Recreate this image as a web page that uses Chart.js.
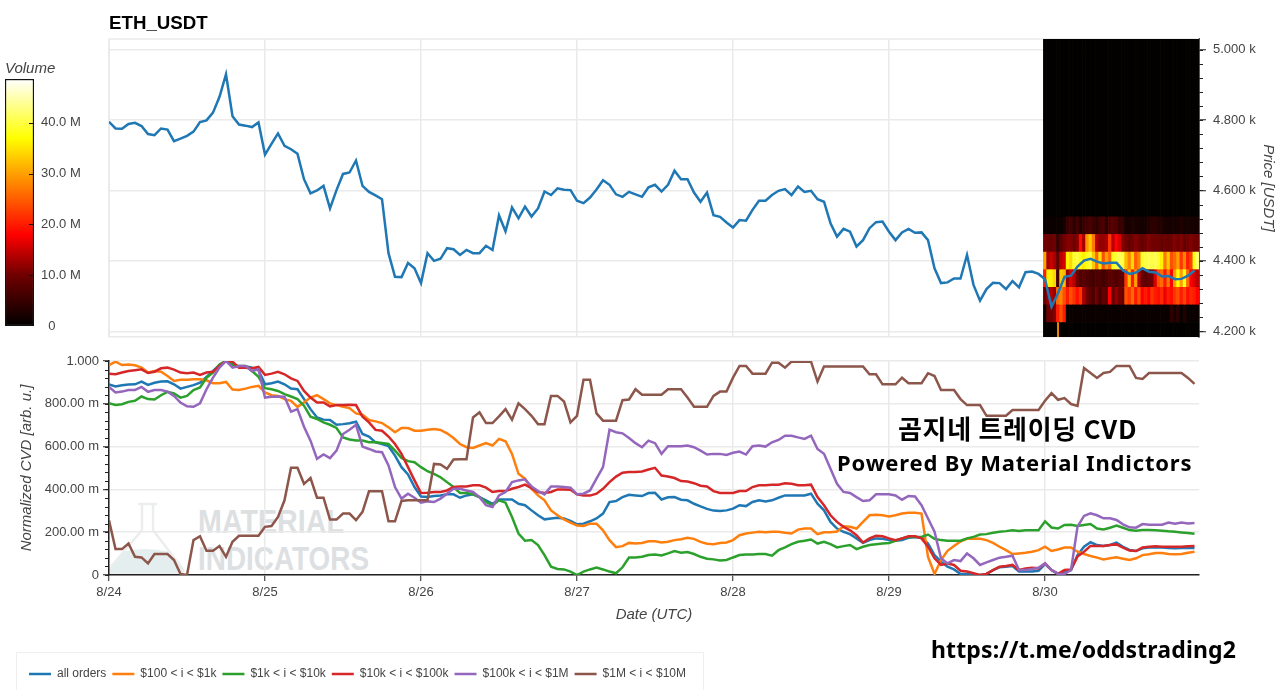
<!DOCTYPE html>
<html>
<head>
<meta charset="utf-8">
<script src="https://cdn.jsdelivr.net/npm/chart.js@4"></script>
<style>
html,body{margin:0;padding:0;background:#fff;width:1280px;height:690px;overflow:hidden}
canvas{position:absolute}
.t{position:absolute;white-space:nowrap;color:#000}
#legendBox{position:absolute;left:16px;top:652px;width:688px;height:46px;border:1px solid #eee;background:#fff;box-sizing:border-box}
</style>
</head>
<body>
<div id="legendBox"></div>
<svg id="wm" width="400" height="100" style="position:absolute;left:100px;top:490px" viewBox="100 490 400 100">
  <path d="M122 552 L110 568 Q107 574 115 574 H178 Q186 574 182 568 L170 552 Q146 546 122 552Z" fill="#e4eeee"/>
  <path d="M138 504 H157 M142 504 V530 L110 568 Q107 574 115 574 H178 Q186 574 182 568 L153 530 V504" fill="none" stroke="#eceeee" stroke-width="2.5"/>
  <text x="198" y="533" font-family="Liberation Sans" font-weight="bold" font-size="33" fill="#dde0e2" textLength="146" lengthAdjust="spacingAndGlyphs">MATERIAL</text>
  <text x="198" y="570" font-family="Liberation Sans" font-weight="bold" font-size="33" fill="#dde0e2" textLength="171" lengthAdjust="spacingAndGlyphs">INDICATORS</text>
</svg>
<canvas id="priceChart" width="1280" height="345" style="left:0;top:0"></canvas>
<canvas id="cvdChart" width="1280" height="345" style="left:0;top:345px"></canvas>
<canvas id="barChart" width="105" height="290" style="left:0;top:50px"></canvas>
<div class="t" style="left:109px;top:12px;font:bold 18.7px 'Liberation Sans'">ETH_USDT</div>
<div class="t" style="left:898px;top:409px;font:bold 26px 'Noto Sans CJK KR';letter-spacing:.7px">곰지네 트레이딩 CVD</div>
<div class="t" style="left:837px;top:447px;font:bold 22px 'Noto Sans';letter-spacing:.83px">Powered By Material Indictors</div>
<div class="t" style="left:931px;top:633px;font:bold 23px 'Noto Sans';letter-spacing:.15px">https://t.me/oddstrading2</div>
<script>
const dayLabels = ['8/24','8/25','8/26','8/27','8/28','8/29','8/30'];
const dayHours = [0,24,48,72,96,120,144];
const seriesNames = ['all orders','$100 < i < $1k','$1k < i < $10k','$10k < i < $100k','$100k < i < $1M','$1M < i < $10M'];
const seriesColors = ['#1f77b4','#ff7f0e','#2ca02c','#d62728','#9467bd','#8c564b'];

const price = [
4795,4776,4775,4789,4792,4783,4760,4757,4776,4773,4740,4747,4755,4767,4794,4799,4821,4866,4930,4811,4787,4784,4780,4793,
4702,4732,4762,4727,4717,4704,4632,4592,4600,4613,4549,4601,4647,4651,4685,4613,4596,4586,4575,4422,4355,4354,4394,4379,
4337,4422,4400,4406,4436,4433,4417,4431,4422,4422,4443,4431,4529,4484,4552,4521,4554,4526,4549,4597,4587,4606,4602,4601,
4571,4564,4580,4603,4629,4616,4589,4582,4596,4589,4582,4609,4616,4597,4616,4656,4632,4632,4594,4568,4594,4530,4525,4509,
4495,4516,4514,4545,4571,4571,4587,4599,4604,4587,4611,4596,4599,4575,4568,4507,4469,4491,4483,4441,4459,4493,4510,4512,
4483,4459,4481,4491,4480,4481,4459,4379,4337,4339,4350,4350,4417,4332,4287,4320,4338,4337,4320,4343,4325,4368,4370,4363,
4348,4270,4308,4355,4358,4384,4401,4406,4398,4393,4395,4395,4373,4363,4367,4379,4369,4367,4356,4357,4348,4349,4358,4373];

const cvdAll = [
.891,.881,.887,.890,.891,.904,.888,.898,.904,.905,.891,.871,.879,.887,.899,.926,.953,.981,1,.984,.972,.975,.969,.957,
.891,.896,.904,.891,.871,.868,.822,.775,.736,.726,.724,.702,.705,.709,.716,.659,.647,.620,.612,.602,.558,.504,.470,.411,
.367,.364,.369,.372,.377,.377,.361,.372,.377,.364,.349,.333,.353,.353,.353,.333,.326,.302,.279,.260,.264,.267,.264,.253,
.237,.240,.251,.264,.287,.341,.346,.364,.375,.372,.369,.383,.384,.353,.363,.364,.352,.349,.333,.321,.309,.301,.299,.302,
.310,.326,.322,.341,.349,.344,.349,.361,.372,.372,.372,.372,.380,.333,.302,.248,.217,.202,.191,.171,.150,.163,.171,.169,
.163,.160,.163,.174,.178,.175,.147,.093,.062,.039,.026,.005,.005,0,0,.005,.023,.036,.039,.042,.016,.016,.016,.020,
.051,.023,.005,.016,.023,.093,.132,.153,.140,.136,.140,.151,.132,.117,.112,.125,.128,.128,.128,.126,.125,.126,.126,.126];

const cvd100 = [
.980,.997,.981,.984,.980,.969,.946,.953,.950,.930,.907,.912,.912,.915,.915,.910,.896,.896,.902,.867,.865,.871,.879,.884,
.853,.840,.837,.822,.814,.786,.806,.829,.840,.822,.802,.794,.786,.780,.755,.749,.724,.718,.710,.690,.667,.687,.687,.674,
.674,.679,.682,.678,.662,.640,.612,.597,.594,.605,.616,.605,.636,.625,.566,.473,.450,.403,.372,.349,.302,.279,.260,.245,
.231,.229,.240,.240,.209,.163,.130,.135,.150,.147,.150,.158,.158,.152,.155,.163,.167,.174,.169,.155,.146,.144,.150,.152,
.163,.186,.194,.198,.202,.200,.202,.202,.197,.194,.212,.217,.217,.191,.200,.200,.203,.228,.225,.217,.248,.279,.282,.279,
.274,.279,.287,.291,.291,.287,.085,.005,.070,.113,.135,.157,.169,.171,.169,.163,.150,.132,.116,.098,.101,.104,.109,.116,
.132,.112,.119,.128,.129,.109,.098,.089,.081,.073,.078,.083,.076,.070,.078,.093,.097,.103,.103,.098,.097,.098,.104,.109];

const cvd1k = [
.803,.795,.798,.809,.814,.834,.822,.820,.840,.856,.848,.829,.837,.864,.876,.922,.946,.984,1,.981,.977,.977,.953,.926,
.873,.868,.860,.845,.834,.822,.791,.740,.729,.713,.702,.687,.643,.633,.628,.628,.620,.620,.617,.612,.581,.547,.532,.527,
.504,.485,.473,.457,.434,.411,.383,.383,.377,.364,.341,.326,.349,.338,.271,.194,.160,.163,.140,.093,.039,.028,.026,.016,
0,.016,.026,.035,.026,.016,.008,.036,.082,.082,.085,.093,.096,.091,.101,.112,.104,.107,.098,.085,.076,.073,.068,.070,
.082,.093,.096,.096,.098,.098,.090,.116,.129,.144,.155,.160,.166,.147,.155,.144,.129,.135,.140,.121,.132,.140,.144,.147,
.150,.160,.171,.178,.178,.178,.189,.169,.163,.160,.160,.160,.171,.178,.189,.191,.197,.202,.205,.209,.206,.209,.209,.209,
.251,.222,.217,.234,.235,.229,.234,.238,.217,.213,.221,.231,.221,.210,.207,.210,.210,.209,.207,.204,.202,.199,.196,.193];

const cvd10k = [
.941,.938,.946,.953,.957,.961,.944,.950,.966,.969,.960,.946,.943,.946,.935,.946,.950,.977,1,.997,.969,.969,.966,.972,
.935,.941,.949,.938,.919,.907,.860,.829,.806,.806,.788,.794,.794,.795,.794,.740,.713,.678,.674,.647,.612,.566,.504,.442,
.383,.384,.388,.388,.395,.411,.414,.414,.419,.419,.408,.388,.392,.392,.403,.411,.422,.406,.388,.383,.388,.400,.400,.398,
.377,.371,.371,.380,.403,.434,.460,.478,.481,.481,.484,.493,.501,.465,.460,.453,.439,.437,.429,.417,.414,.392,.383,.383,
.383,.392,.392,.411,.419,.419,.422,.422,.429,.426,.419,.419,.422,.364,.326,.279,.248,.225,.209,.186,.152,.171,.183,.181,
.171,.163,.171,.181,.181,.171,.132,.078,.047,.054,.047,.020,.016,.008,0,.005,.023,.039,.042,.047,.023,.031,.034,.031,
.054,.023,.005,.023,.026,.086,.109,.136,.136,.136,.140,.143,.128,.114,.112,.129,.132,.134,.132,.132,.132,.132,.134,.136];

const cvd100k = [
.879,.853,.857,.864,.865,.879,.856,.864,.864,.857,.837,.806,.788,.786,.802,.868,.922,.969,1,.969,.977,.977,.953,.961,
.829,.833,.834,.833,.763,.775,.693,.628,.543,.563,.546,.581,.659,.679,.702,.600,.589,.577,.574,.512,.411,.357,.380,.361,
.338,.344,.341,.357,.380,.403,.403,.395,.388,.364,.326,.318,.372,.388,.434,.442,.447,.414,.392,.377,.414,.414,.411,.408,
.377,.380,.395,.450,.504,.679,.667,.662,.640,.616,.597,.628,.616,.566,.602,.602,.602,.605,.597,.581,.563,.566,.566,.561,
.571,.577,.563,.602,.605,.600,.620,.631,.651,.651,.643,.636,.651,.589,.566,.496,.426,.388,.383,.364,.346,.349,.377,.377,
.377,.372,.352,.369,.367,.326,.264,.202,.078,.054,.070,.065,.101,.078,.047,.059,.070,.081,.085,.090,.023,.023,.028,.034,
.054,.023,.005,.005,.023,.226,.276,.288,.279,.265,.265,.257,.237,.223,.221,.238,.235,.235,.235,.245,.240,.245,.241,.243];

const cvd1m = [
.256,.121,.121,.147,.085,.082,.054,.098,.098,.098,.070,.005,0,.163,.181,.113,.113,.135,.085,.155,.183,.183,.183,.183,
.225,.229,.271,.349,.501,.501,.426,.453,.361,.361,.259,.259,.287,.287,.256,.295,.391,.391,.391,.251,.251,.346,.349,.349,
.349,.349,.519,.516,.496,.540,.541,.541,.736,.760,.710,.710,.741,.775,.726,.802,.775,.744,.705,.705,.837,.837,.811,.713,
.744,.912,.912,.755,.721,.721,.721,.817,.820,.868,.842,.842,.842,.842,.868,.868,.868,.829,.786,.786,.786,.837,.857,.857,
.922,.977,.977,.941,.941,.941,.992,.992,.969,.997,.997,.997,.997,.904,.974,.974,.974,.974,.974,.974,.974,.938,.938,.891,
.891,.891,.922,.896,.896,.896,.943,.930,.864,.864,.864,.822,.794,.794,.794,.744,.744,.744,.744,.771,.771,.771,.771,.771,
.814,.850,.819,.827,.799,.790,.967,.944,.921,.944,.949,.977,.977,.977,.921,.916,.944,.944,.944,.944,.944,.944,.921,.893];

const heatHours = [144,144.5,145,145.5,146,146.5,147,147.5,148,148.5,149,149.5,150,150.5,151,151.5,152,152.5,153,153.5,154,154.5,155,155.5,156,156.5,157,157.5,158,158.5,159,159.5,160,160.5,161,161.5,162,162.5,163,163.5,164,164.5,165,165.5,166,166.5,167,167.5];
const heatEdges = [4184,4225,4275,4325,4375,4425,4475,4525,5030];
const heatBand0 = [.3,.3,.3,.3,.3,.3,.3,.3,.3,.3,.3,.3,.3,.3,.3,.3,.3,.3,.3,.3,.3,.3,.3,.3,.3,.3,.3,.3,.3,.3,.3,.3,.3,.3,.3,.3,.3,.3,.3,.3,.3,.3,.3,.3,.3,.3,.3,.3];
const heatBand1 = [1,10,10,11,20,24,20,1,1,1,1,1,1,1,1,1,1,1,1,1,1,1,1,1,1,1,1,1,1,1,1,1,1,1,1,1,1,1,1,4,2,4,1,3,1,1,1,1];
const heatBand2 = [9,12,14,12,26,28,24,20,24,22,19,22,13,10,8,7,10,6,9,8,18,9,12,10,9,24,22,26,20,24,18,20,18,22,20,19,21,17,20,19,22,24,20,23,19,21,20,18];
const heatBand3 = [20,36,36,34,6,33,32,12,16,14,10,7,8,7,7,6,7,7,6,7,8,8,7,8,8,22,32,20,30,14,9,8,9,10,16,24,26,20,27,18,30,37,30,38,26,18,16,14];
const heatBand4 = [30,13,15,13,9,14,16,36,34,39,40,38,36,38,40,33,26,35,24,30,26,38,40,41,40,32,28,34,25,28,39,40,41,40,41,39,36,27,33,24,26,30,22,28,20,23,38,42];
const heatBand5 = [10,10,9,10,5,8,10,11,11,10,11,19,13,29,33,27,14,12,12,13,22,14,18,16,11,10,9,10,11,10,9,10,11,10,10,10,9,10,9,10,11,10,11,9,10,11,10,10];
const heatBand6 = [1,1,1,1,1,1,2,5,6,4,6,3,5,6,7,5,4,6,7,4,7,8,7,5,5,2,2,3,2,2,2,2,3,4,4,3,3,2,2,2,2,2,3,2,2,2,2,2];
const heatBand7 = [.3,.3,.3,.3,.3,.3,.3,.3,.3,.3,.3,.3,.3,.3,.3,.3,.3,.3,.3,.3,.3,.3,.3,.3,.3,.3,.3,.3,.3,.3,.3,.3,.3,.3,.3,.3,.3,.3,.3,.3,.3,.3,.3,.3,.3,.3,.3,.3];
const heatBands = [heatBand0,heatBand1,heatBand2,heatBand3,heatBand4,heatBand5,heatBand6,heatBand7];
const colorStops = [[0,[0,0,0]],[10,[112,0,0]],[18,[255,0,0]],[30,[255,160,0]],[37,[255,255,0]],[48.6,[255,255,255]]];
const volumeTicks = [0,10,20,30,40];

const fontFam = "'Liberation Sans'";
const labelColor = '#444';
const gridColor = '#eaeaea';

function heatColor(v){
  for(let i=1;i<colorStops.length;i++){
    if(v<=colorStops[i][0]){
      const [a,ca]=colorStops[i-1],[b,cb]=colorStops[i],f=(v-a)/(b-a);
      return 'rgb('+ca.map((c,k)=>Math.round(c+(cb[k]-c)*f)).join(',')+')';
    }
  }
  return '#fff';
}

const minorTicks = {
  id:'minorTicks',
  afterDraw(chart,args,opts){
    if(!opts.step) return;
    const s=chart.scales.y,ctx=chart.ctx,x=opts.side==='right'?s.left:s.right,d=opts.side==='right'?4:-4;
    ctx.save();ctx.strokeStyle='#222';ctx.lineWidth=1;ctx.beginPath();
    for(let v=Math.ceil(s.min/opts.step)*opts.step;v<=s.max+1e-9;v+=opts.step){
      const p=Math.round(s.getPixelForValue(v))+.5;
      ctx.moveTo(x,p);ctx.lineTo(x+d,p);
    }
    ctx.stroke();ctx.restore();
  }
};
const plotFrame = {
  id:'plotFrame',
  beforeDatasetsDraw(chart,args,opts){
    if(!opts.color) return;
    const a=chart.chartArea,ctx=chart.ctx;
    ctx.save();ctx.strokeStyle=opts.color;ctx.lineWidth=1.5;ctx.beginPath();
    ctx.moveTo(a.left,a.bottom);ctx.lineTo(a.left,a.top);ctx.lineTo(a.right,a.top);ctx.stroke();ctx.restore();
  }
};
Chart.register(minorTicks,plotFrame);

const hourOf = arr => arr.map((y,i)=>({x:i,y}));
const setDayTicks = s => { s.ticks = dayHours.map(value=>({value})); };

const heatDatasets = heatBands.map((vols,b)=>({
  type:'bar',
  data:vols.map((v,i)=>({x:heatHours[i],y:[heatEdges[b],heatEdges[b+1]],v})),
  backgroundColor:c=>c.raw?heatColor(c.raw.v):'#000',
  borderWidth:0,grouped:false,barPercentage:1,categoryPercentage:1,order:3
}));

new Chart(document.getElementById('priceChart'),{
  type:'line',
  data:{datasets:[
    {data:hourOf(price),borderColor:'#1f77b4',backgroundColor:'#1f77b4',borderWidth:2.5,pointRadius:0,tension:0,order:0},
    {type:'bar',data:[{x:146,y:[4184,4225]}],backgroundColor:'#ff8c00',borderWidth:0,grouped:false,barPercentage:1,categoryPercentage:1,maxBarThickness:1.2,order:1},
    ...heatDatasets
  ]},
  options:{
    responsive:false,animation:false,events:[],
    layout:{autoPadding:false,padding:{top:39,left:109,right:0,bottom:0}},
    plugins:{legend:{display:false},tooltip:{enabled:false},minorTicks:{step:40,side:'right'},plotFrame:{color:gridColor}},
    scales:{
      x:{type:'linear',min:0,max:167.69,offset:false,
        afterFit(s){s.height=8;},
        afterBuildTicks:setDayTicks,
        border:{color:gridColor,width:1.5},
        grid:{color:gridColor,lineWidth:1.5,drawTicks:false,offset:false},
        ticks:{display:false}},
      y:{type:'linear',position:'right',min:4184,max:5030,
        afterFit(s){s.width=81;s.paddingBottom=0;s.paddingTop=0;},
        border:{color:'#555',width:2},
        grid:{color:gridColor,lineWidth:1.5,tickColor:'#222',tickLength:7,tickWidth:1},
        ticks:{stepSize:200,includeBounds:false,padding:7,color:labelColor,font:{family:fontFam,size:13},
          callback:v=>(v/1000).toFixed(3)+' k'},
        title:{display:true,text:'Price [USDT]',color:labelColor,font:{family:fontFam,size:15,style:'italic'},padding:{top:3,bottom:0}}}
    }
  }
});

const cvdSeries = [cvdAll,cvd100,cvd1k,cvd10k,cvd100k,cvd1m];

new Chart(document.getElementById('cvdChart'),{
  type:'line',
  data:{datasets:cvdSeries.map((s,i)=>({
    label:seriesNames[i],data:hourOf(s),borderColor:seriesColors[i],backgroundColor:seriesColors[i],
    borderWidth:2.5,pointRadius:0,tension:0,order:6-i
  }))},
  options:{
    responsive:false,animation:false,events:[],
    layout:{autoPadding:false,padding:{top:16,left:23,right:81,bottom:0}},
    plugins:{
      tooltip:{enabled:false},
      minorTicks:{step:.04,side:'left'},
      legend:{position:'bottom',align:'start',
        labels:{boxWidth:22,boxHeight:0,padding:6,color:labelColor,font:{family:fontFam,size:12,lineHeight:1},
          sort:(a,b)=>a.datasetIndex-b.datasetIndex}}
    },
    scales:{
      x:{type:'linear',min:0,max:167.69,
        afterFit(s){s.height=87;},
        afterBuildTicks:setDayTicks,
        border:{color:'#222',width:1.5},
        grid:{color:gridColor,lineWidth:1.5,tickColor:'#222',tickLength:6,tickWidth:1},
        ticks:{autoSkip:false,maxRotation:0,padding:4,color:labelColor,font:{family:fontFam,size:13},
          callback:v=>dayLabels[dayHours.indexOf(v)]},
        title:{display:true,text:'Date (UTC)',color:labelColor,font:{family:fontFam,size:15,style:'italic'},padding:{top:0,bottom:38}}},
      y:{type:'linear',min:0,max:1,
        afterFit(s){s.width=86;s.paddingTop=0;s.paddingBottom=0;},
        border:{color:'#222',width:1.5},
        grid:{color:gridColor,lineWidth:1.5,tickColor:'#222',tickLength:6,tickWidth:1},
        ticks:{stepSize:.2,padding:4,color:labelColor,font:{family:fontFam,size:13},
          callback:v=>v===0?'0':(Math.abs(v-1)<1e-9?'1.000':(v*1000).toFixed(2)+' m')},
        title:{display:true,text:'Normalized CVD [arb. u.]',color:labelColor,font:{family:fontFam,size:15,style:'italic'},padding:{top:-5,bottom:0}}}
    }
  }
});

new Chart(document.getElementById('barChart'),{
  type:'bar',
  data:{labels:['Volume'],datasets:[{
    data:[[0,48.6]],
    backgroundColor(c){
      const a=c.chart.chartArea;
      if(!a) return '#000';
      const g=c.chart.ctx.createLinearGradient(0,a.bottom,0,a.top);
      colorStops.forEach(([v,col])=>g.addColorStop(v/48.6,'rgb('+col.join(',')+')'));
      return g;
    },
    borderColor:'#111',borderWidth:1.5,borderSkipped:false,barPercentage:1,categoryPercentage:1
  }]},
  options:{
    responsive:false,animation:false,events:[],
    layout:{autoPadding:false,padding:{top:0,left:5,right:0,bottom:14}},
    plugins:{legend:{display:false},tooltip:{enabled:false},
      title:{display:true,text:'Volume',align:'start',color:labelColor,font:{family:fontFam,size:15,style:'italic',weight:'normal'},padding:{top:10,bottom:1}}},
    scales:{
      x:{display:false,offset:true},
      y:{position:'right',min:0,max:48.6,
        afterFit(s){s.width=71;s.paddingTop=0;s.paddingBottom=0;},
        afterBuildTicks(s){s.ticks=volumeTicks.map(value=>({value}));},
        border:{display:false},
        grid:{display:false,drawTicks:false},
        ticks:{padding:7,color:labelColor,font:{family:fontFam,size:13},callback:v=>v===0?'  0':v.toFixed(1)+' M'}}
    }
  },
  plugins:[{id:'barTicks',afterDraw(chart){
    const s=chart.scales.y,ctx=chart.ctx,a=chart.chartArea;
    ctx.save();ctx.strokeStyle='#111';ctx.lineWidth=1;ctx.beginPath();
    volumeTicks.slice(1).forEach(v=>{const p=Math.round(s.getPixelForValue(v))+.5;ctx.moveTo(a.right-5,p);ctx.lineTo(a.right,p);});
    ctx.stroke();ctx.restore();
  }}]
});
</script>
</body>
</html>
